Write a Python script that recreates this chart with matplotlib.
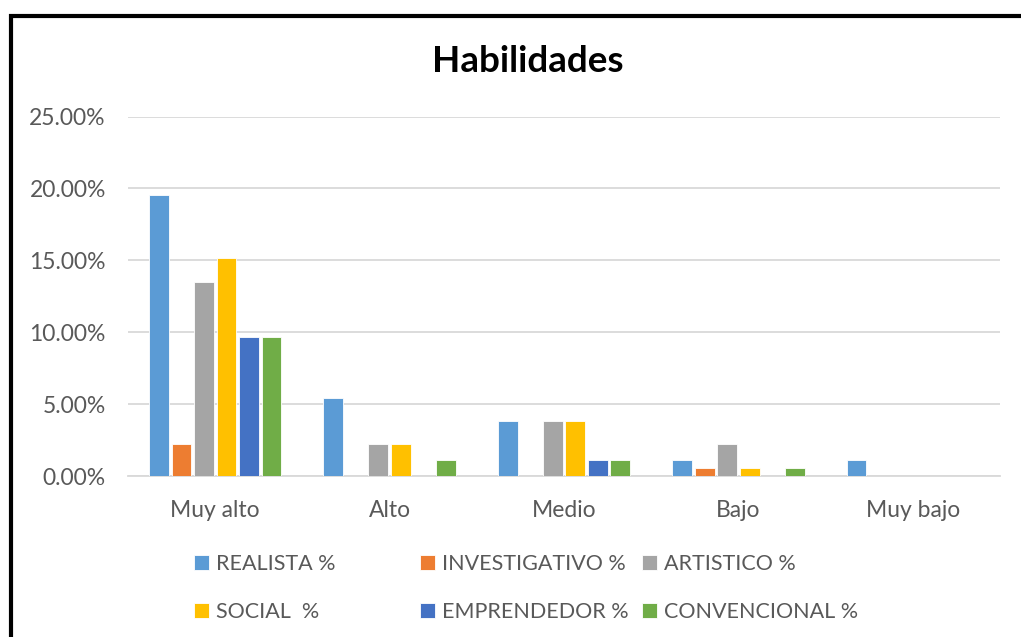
import matplotlib
matplotlib.use("Agg")
import numpy as np
import matplotlib.pyplot as plt
from matplotlib.patches import Rectangle
from matplotlib.ticker import FuncFormatter

# niveles y porcentajes por tipo
categories = ["Muy alto", "Alto", "Medio", "Bajo", "Muy bajo"]
series_names = ["REALISTA %", "INVESTIGATIVO %", "ARTISTICO %",
                "SOCIAL  %", "EMPRENDEDOR %", "CONVENCIONAL %"]
realista = [19.55, 5.4, 3.8, 1.1, 1.1]
investigativo = [2.2, 0.0, 0.0, 0.55, 0.0]
artistico = [13.5, 2.2, 3.8, 2.2, 0.0]
social = [15.15, 2.2, 3.8, 0.55, 0.0]
emprendedor = [9.7, 0.0, 1.1, 0.0, 0.0]
convencional = [9.7, 1.1, 1.1, 0.55, 0.0]
colors = ["#5B9BD5", "#ED7D31", "#A5A5A5", "#FFC000", "#4472C4", "#70AD47"]

grey = "#595959"
font = "Lato"

fig = plt.figure(figsize=(10.21, 6.37), dpi=100)
ax = fig.add_axes([0.1254, 0.2527, 0.854, 0.5644])

all_series = [realista, investigativo, artistico, social, emprendedor, convencional]
x = np.arange(len(categories))
step = 0.129
width = 0.114
bars = []
for i, vals in enumerate(all_series):
    b = ax.bar(x + (i - 2.5) * step, np.array(vals) / 100, width,
               color=colors[i], edgecolor="white", linewidth=0.6,
               label=series_names[i], zorder=3)
    bars.append(b)

ax.set_xlim(-0.5, len(categories) - 0.5)
ax.set_ylim(0, 0.25)
ax.set_yticks(np.arange(0, 0.2501, 0.05))
ax.yaxis.set_major_formatter(FuncFormatter(lambda v, p: f"{v*100:.2f}%"))
ax.set_xticks(x)
ax.set_xticklabels(categories)
ax.grid(axis="y", color="#D9D9D9", linewidth=1.3, zorder=0)
for s in ["top", "left", "right"]:
    ax.spines[s].set_visible(False)
ax.spines["bottom"].set_color("#D9D9D9")
ax.spines["bottom"].set_linewidth(1.3)
ax.tick_params(axis="both", length=0, colors=grey, labelsize=16.5)
ax.tick_params(axis="y", pad=16)
ax.tick_params(axis="x", pad=17)
for lab in ax.get_xticklabels() + ax.get_yticklabels():
    lab.set_family(font)

fig.text(0.517, 1 - 61 / 637, "Habilidades", ha="center", va="center",
         fontsize=26.5, fontweight="bold", family=font, color="black")

# leyenda en tres columnas
cols = [(0, 3), (1, 4), (2, 5)]
col_x = [194, 420, 642]
for (a, b), cx in zip(cols, col_x):
    leg = fig.legend([bars[a], bars[b]], [series_names[a], series_names[b]],
                     loc="upper left", bbox_to_anchor=(cx / 1021, 1 - 554 / 637),
                     frameon=False, borderpad=0, borderaxespad=0,
                     handlelength=0.68, handleheight=0.68, handletextpad=0.35,
                     labelspacing=1.3, prop={"family": font, "size": 15.5})
    for t in leg.get_texts():
        t.set_color(grey)

# marco del grafico
fig.add_artist(Rectangle((10.5 / 1021, -0.1), 1.2, 1 - 16 / 637 + 0.1,
                         transform=fig.transFigure, fill=False,
                         edgecolor="black", linewidth=3, clip_on=False))

fig.savefig("out.png", dpi=100)
